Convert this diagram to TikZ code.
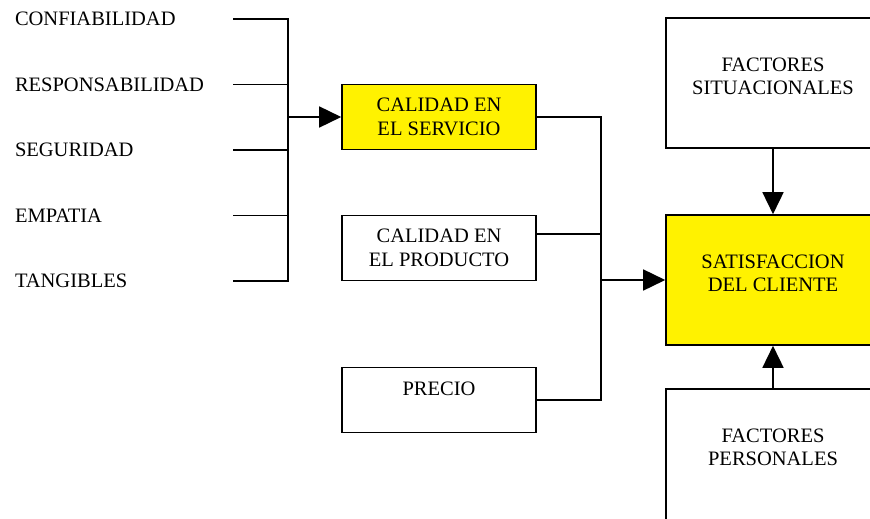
\documentclass[tikz,border=0pt]{standalone}
\usepackage{fontspec}
\setmainfont{Liberation Serif}
\usetikzlibrary{arrows.meta}

\begin{document}
\begin{tikzpicture}[x=1pt, y=-1pt, node distance=65.5pt,
        font=\fontsize{20.5}{23.5}\selectfont,
        factor/.style={inner sep=0pt, text width=218pt, align=left},
        box/.style={draw, rectangle, line width=1.6pt, align=center, minimum width=194pt, minimum height=65pt},
        bigbox/.style={draw, rectangle, line width=1.6pt, align=center, minimum width=214pt, inner ysep=0pt, text height=76.5pt, text depth=53.5pt},
        linea/.style={line width=1.6pt},
        flecha/.style={line width=1.6pt, -{Triangle[length=22pt,width=21pt]}}]
                \useasboundingbox (0,0) rectangle (870,519);

                % dimensiones de la calidad del servicio
                \node (confiabilidad) [factor] at (124,19) {CONFIABILIDAD};
                \node (responsabilidad) [factor, below of=confiabilidad] {RESPONSABILIDAD};
                \node (seguridad) [factor, below of=responsabilidad] {SEGURIDAD};
                \node (empatia) [factor, below of=seguridad] {EMPATIA};
                \node (tangibles) [factor, below of=empatia] {TANGIBLES};
                \coordinate (nudo1) at (288,117);

                % factores de la satisfaccion
                \node (servicio) [box, fill=yellow] at (439,117) {CALIDAD EN\\EL SERVICIO};
                \node (producto) [box, below of=servicio, node distance=131pt] {CALIDAD EN\\EL PRODUCTO};
                \node (precio) [box, below of=producto, node distance=152pt] {PRECIO\\\mbox{}};
                \coordinate (nudo2) at (601,280);

                \node (satisfaccion) [bigbox, fill=yellow] at (773,280) {SATISFACCION\\DEL CLIENTE};
                \node (situacionales) [bigbox, above of=satisfaccion, node distance=197pt] {FACTORES\\SITUACIONALES};
                \node (personales) [bigbox, text depth=76.5pt, below of=satisfaccion, node distance=185.5pt] {FACTORES\\PERSONALES};

                \draw [linea] (confiabilidad.east) -| (nudo1);
                \draw [linea] (tangibles.east) -| (nudo1);
                \draw [linea] (responsabilidad.east) -- (responsabilidad.east -| nudo1);
                \draw [linea] (seguridad.east) -- (seguridad.east -| nudo1);
                \draw [linea] (empatia.east) -- (empatia.east -| nudo1);
                \draw [flecha] (nudo1) -- (servicio);

                \draw [linea] (servicio.east) -| (nudo2);
                \draw [linea] (precio.east) -| (nudo2);
                \draw [linea] ([yshift=14pt]producto.east) -- ([yshift=14pt]producto.east -| nudo2);
                \draw [flecha] (nudo2) -- (satisfaccion);

                \draw [flecha] (situacionales) -- (satisfaccion);
                \draw [flecha] (personales) -- (satisfaccion);
\end{tikzpicture}
\end{document}
